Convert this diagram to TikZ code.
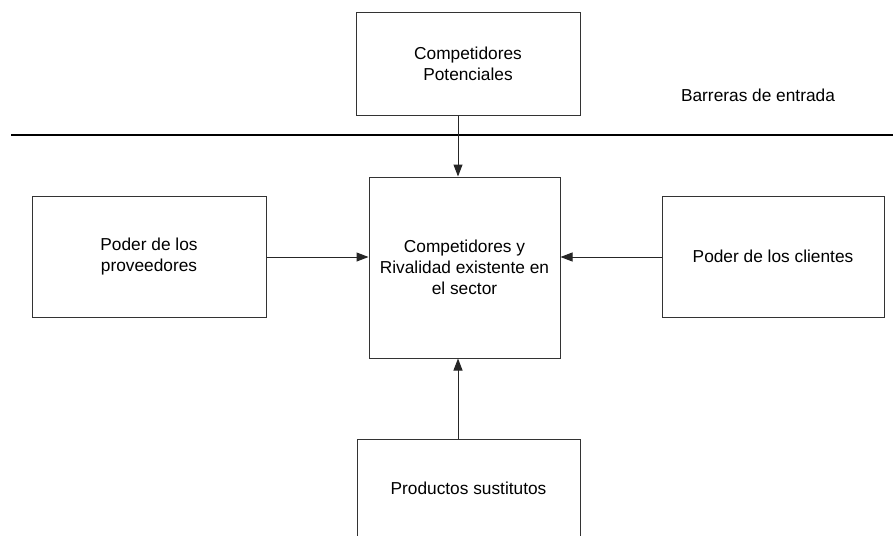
\documentclass[tikz,border=0pt]{standalone}
\usepackage{fontspec}
\setmainfont{Liberation Sans}
\usetikzlibrary{arrows.meta}
\begin{document}
\begin{tikzpicture}[x=1pt,y=-1pt,
  box/.style={draw=black!80, line width=1pt, inner sep=0pt, align=center,
    font=\fontsize{17.3}{21}\selectfont},
  conn/.style={draw=black!85, line width=1pt, -{Triangle[length=12pt,width=9pt]}},
  lbl/.style={inner sep=0pt, font=\fontsize{17.3}{21}\selectfont}]
\useasboundingbox (0,0) rectangle (893,535);
\begin{scope}
\clip (0,0) rectangle (893,535);
\node[box, minimum width=224pt, minimum height=102pt] (top) at (468,64) {Competidores\\Potenciales};
\node[box, minimum width=191pt, minimum height=181pt] (mid) at (464.5,267.5) {Competidores y\\Rivalidad existente en\\el sector};
\node[box, minimum width=234pt, minimum height=121pt] (left) at (149,256.5) {Poder de los\\proveedores};
\node[box, minimum width=222pt, minimum height=121pt] (right) at (773,256.5) {Poder de los clientes};
\node[box, minimum width=223pt, minimum height=99pt] (bot) at (468.5,488.5) {Productos sustitutos};
\end{scope}
\node[lbl] (barr) at (758,95) {Barreras de entrada};
\coordinate (lineL) at (11,135);
\coordinate (lineR) at (893,135);
\draw[line width=1.3pt, black] (lineL) -- (lineR);
\coordinate (ax) at (458,0);
\coordinate (ay) at (0,257);
\draw[conn] (top.south -| ax) -- (mid.north -| ax);
\draw[conn] (bot.north -| ax) -- (mid.south -| ax);
\draw[conn] (left.east |- ay) -- (mid.west |- ay);
\draw[conn] (right.west |- ay) -- (mid.east |- ay);
\end{tikzpicture}
\end{document}
